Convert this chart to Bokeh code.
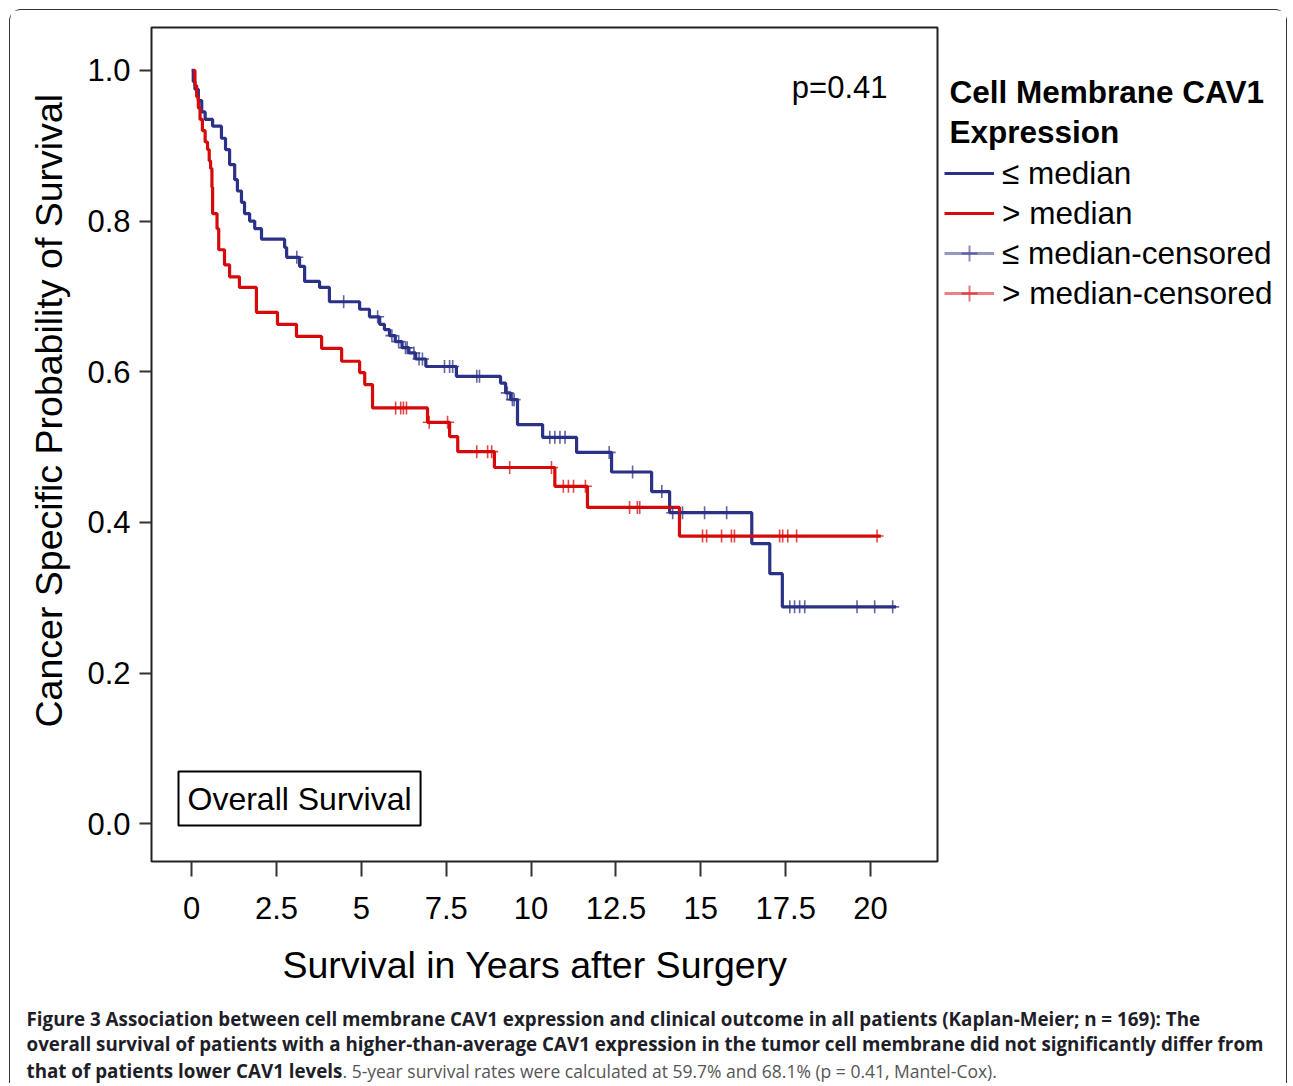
import numpy as np
from bokeh.plotting import figure
from bokeh.layouts import column, row
from bokeh.models import Range1d, Label, Legend, LegendItem, FixedTicker, ColumnDataSource, Title
from bokeh.embed import file_html
from bokeh.resources import INLINE

# ---- data ----
blue_times = [0, 0.05, 0.1, 0.2, 0.3, 0.4, 0.62, 0.88, 1.0, 1.12, 1.27, 1.35, 1.47, 1.56, 1.71, 1.86,
              2.06, 2.74, 2.8, 3.18, 3.33, 3.77, 4.06, 4.95, 5.24, 5.54, 5.68, 5.83, 6.0, 6.2, 6.4,
              6.6, 6.9, 7.8, 9.1, 9.25, 9.4, 9.6, 10.34, 11.34, 12.37, 13.55, 14.08, 16.5, 17.03, 17.4]
blue_surv = [1.0, 0.985, 0.975, 0.96, 0.945, 0.935, 0.926, 0.91, 0.895, 0.875, 0.855, 0.84, 0.825, 0.81,
             0.80, 0.79, 0.776, 0.765, 0.752, 0.74, 0.72, 0.712, 0.693, 0.683, 0.673, 0.663, 0.656,
             0.648, 0.64, 0.632, 0.625, 0.617, 0.607, 0.594, 0.585, 0.572, 0.563, 0.53, 0.513, 0.493,
             0.467, 0.441, 0.413, 0.372, 0.332, 0.288]
blue_censored = [3.1, 4.48, 5.48, 5.9, 6.1, 6.3, 6.35, 6.55, 6.7, 6.8, 7.45, 7.6, 7.69, 8.4, 8.48, 9.3,
                 9.45, 9.5, 10.55, 10.7, 10.85, 11.0, 12.3, 12.99, 13.85, 14.17, 14.46, 15.11, 15.76,
                 17.62, 17.76, 17.91, 18.06, 19.6, 20.12, 20.65]
blue_end = 20.75

red_times = [0.05, 0.1, 0.15, 0.2, 0.25, 0.32, 0.4, 0.47, 0.52, 0.56, 0.6, 0.62, 0.75, 0.8, 0.97, 1.12,
             1.41, 1.91, 2.53, 3.09, 3.83, 4.42, 4.95, 5.1, 5.33, 6.95, 7.6, 7.84, 8.92, 10.7, 11.66, 14.37]
red_surv = [1.0, 0.98, 0.965, 0.95, 0.935, 0.92, 0.905, 0.895, 0.88, 0.87, 0.845, 0.81, 0.79, 0.762,
            0.742, 0.726, 0.712, 0.679, 0.663, 0.647, 0.631, 0.614, 0.599, 0.583, 0.552, 0.533, 0.514,
            0.494, 0.473, 0.448, 0.42, 0.382]
red_censored = [6.01, 6.16, 6.24, 6.33, 7.0, 7.54, 8.4, 8.72, 8.84, 9.37, 10.6, 10.95, 11.1, 11.25, 11.6,
                12.9, 13.13, 13.2, 15.05, 15.17, 15.61, 15.9, 15.99, 17.32, 17.41, 17.56, 17.82, 20.19]
red_end = 20.3

group_labels = ["\u2264 median", "> median", "\u2264 median-censored", "> median-censored"]
legend_title = ["Cell Membrane CAV1", "Expression"]
x_ticks = [0, 2.5, 5, 7.5, 10, 12.5, 15, 17.5, 20]
x_tick_labels = ["0", "2.5", "5", "7.5", "10", "12.5", "15", "17.5", "20"]
y_ticks = [0.0, 0.2, 0.4, 0.6, 0.8, 1.0]
y_tick_labels = ["0.0", "0.2", "0.4", "0.6", "0.8", "1.0"]
caption_bold = [
    "Figure 3 Association between cell membrane CAV1 expression and clinical outcome in all patients (Kaplan-Meier; n = 169): The",
    "overall survival of patients with a higher-than-average CAV1 expression in the tumor cell membrane did not significantly differ from",
    "that of patients lower CAV1 levels",
]
caption_normal = ". 5-year survival rates were calculated at 59.7% and 68.1% (p = 0.41, Mantel-Cox)."

BLUE = "#2b3186"
RED = "#d60a0a"
FONT = "Liberation Sans"
CAP_FONT = "Open Sans"


def step_source(times, surv, end):
    return ColumnDataSource(dict(x=list(times) + [end], y=list(surv) + [surv[-1]]))


def censor_source(times, surv, cens):
    t = np.asarray(times)
    s = np.asarray(surv)
    idx = np.searchsorted(t, np.asarray(cens), side="right") - 1
    return ColumnDataSource(dict(x=list(cens), y=list(s[idx])))


def blank(w, h):
    f = figure(width=w, height=h, output_backend="svg", toolbar_location=None,
               x_range=Range1d(0, 1), y_range=Range1d(0, 1),
               x_axis_location=None, y_axis_location=None,
               min_border_left=0, min_border_right=0, min_border_top=0, min_border_bottom=0)
    f.xgrid.visible = False
    f.ygrid.visible = False
    f.outline_line_color = None
    return f


# ---------------- main plot ----------------
p = figure(width=931, height=997, output_backend="svg", toolbar_location=None,
           x_range=Range1d(-1.18, 21.97), y_range=Range1d(-0.05, 1.057),
           min_border_left=141, min_border_right=4, min_border_top=17, min_border_bottom=146)
p.xgrid.visible = False
p.ygrid.visible = False
p.outline_line_color = "#222222"
p.outline_line_width = 2

for ax in (p.xaxis[0], p.yaxis[0]):
    ax.axis_line_color = None
    ax.major_tick_line_color = "#333333"
    ax.major_tick_line_width = 2
    ax.minor_tick_line_color = None
    ax.major_tick_in = 0
    ax.major_label_text_font = FONT
    ax.major_label_text_font_size = "31px"
    ax.major_label_text_color = "black"

p.xaxis.ticker = FixedTicker(ticks=x_ticks)
p.xaxis.major_label_overrides = {t: l for t, l in zip(x_ticks, x_tick_labels)}
p.xaxis.major_tick_out = 15
p.xaxis.major_label_standoff = 20

p.yaxis.ticker = FixedTicker(ticks=y_ticks)
p.yaxis.major_label_overrides = {t: l for t, l in zip(y_ticks, y_tick_labels)}
p.yaxis.major_tick_out = 12
p.yaxis.major_label_standoff = 9

p.add_layout(Title(text="Survival in Years after Surgery", align="left", offset=131,
                   text_font=FONT, text_font_style="normal", text_font_size="37.5px",
                   text_color="black", standoff=40), "below")
p.add_layout(Title(text="Cancer Specific Probability of Survival", align="left", offset=134,
                   text_font=FONT, text_font_style="normal", text_font_size="37.5px",
                   text_color="black", standoff=29), "left")

p.step("x", "y", source=step_source(blue_times, blue_surv, blue_end), mode="after",
       line_color=BLUE, line_width=3.2)
p.step("x", "y", source=step_source(red_times, red_surv, red_end), mode="after",
       line_color=RED, line_width=3.2)
p.scatter("x", "y", source=censor_source(blue_times, blue_surv, blue_censored), marker="cross",
          size=13, line_color=BLUE, line_width=1.6, line_alpha=0.75)
p.scatter("x", "y", source=censor_source(red_times, red_surv, red_censored), marker="cross",
          size=13, line_color=RED, line_width=1.6, line_alpha=0.75)

p.add_layout(Label(x=736, y=774, x_units="screen", y_units="screen", text="p=0.41",
                   text_font=FONT, text_font_size="31px", text_align="right",
                   text_baseline="middle", text_color="black"))
p.add_layout(Label(x=27, y=63, x_units="screen", y_units="screen", text="Overall Survival",
                   text_font=FONT, text_font_size="32px", text_baseline="middle", text_color="black",
                   border_line_color="black", border_line_width=2, background_fill_color="white",
                   padding=9))

# ---------------- legend panel (its frame is aligned with the main frame) ----------------
q = blank(345, 997)
nan_src = dict(x=[np.nan], y=[np.nan])
lb = q.step(x="x", y="y", source=ColumnDataSource(nan_src), line_color=BLUE, line_width=3.2)
lr = q.step(x="x", y="y", source=ColumnDataSource(nan_src), line_color=RED, line_width=3.2)
lbl = q.line(x="x", y="y", source=ColumnDataSource(nan_src), line_color=BLUE, line_width=3, line_alpha=0.5)
lrl = q.line(x="x", y="y", source=ColumnDataSource(nan_src), line_color=RED, line_width=3, line_alpha=0.5)
lbc = q.scatter(x="x", y="y", source=ColumnDataSource(nan_src), marker="cross", size=32,
                line_color=BLUE, line_width=2, line_alpha=0.55)
lrc = q.scatter(x="x", y="y", source=ColumnDataSource(nan_src), marker="cross", size=32,
                line_color=RED, line_width=2, line_alpha=0.55)
legend = Legend(items=[
    LegendItem(label=group_labels[0], renderers=[lb]),
    LegendItem(label=group_labels[1], renderers=[lr]),
    LegendItem(label=group_labels[2], renderers=[lbl, lbc]),
    LegendItem(label=group_labels[3], renderers=[lrl, lrc]),
], location=(3, 548), orientation="vertical")
legend.label_text_font = FONT
legend.label_text_font_size = "31.5px"
legend.label_text_color = "black"
legend.glyph_width = 50
legend.glyph_height = 40
legend.label_height = 40
legend.label_standoff = 8
legend.spacing = 0
legend.padding = 0
legend.margin = 0
legend.border_line_color = None
legend.background_fill_alpha = 0
q.add_layout(legend)
for txt, yy in zip(legend_title, [770, 730]):
    q.add_layout(Label(x=8, y=yy, x_units="screen", y_units="screen", text=txt,
                       text_font=FONT, text_font_style="bold", text_font_size="31.5px",
                       text_baseline="middle", text_color="black"))

# ---------------- caption ----------------
cap = blank(1276, 76)
for txt, yy in zip(caption_bold, [65, 40, 13]):
    cap.add_layout(Label(x=16, y=yy, x_units="screen", y_units="screen", text=txt,
                         text_font=CAP_FONT, text_font_style="bold", text_font_size="18.8px",
                         text_baseline="middle", text_color="#1e1e28"))
cap.add_layout(Label(x=332, y=13, x_units="screen", y_units="screen", text=caption_normal,
                     text_font=CAP_FONT, text_font_size="17.5px",
                     text_baseline="middle", text_color="#555555"))

layout = column(row(p, q), cap,
                styles={"border": "1.5px solid #333333", "border-bottom": "none",
                        "border-radius": "12px 12px 0 0", "margin": "9px 0 0 9px"})

open("out.html", "w").write(file_html(layout, INLINE))
